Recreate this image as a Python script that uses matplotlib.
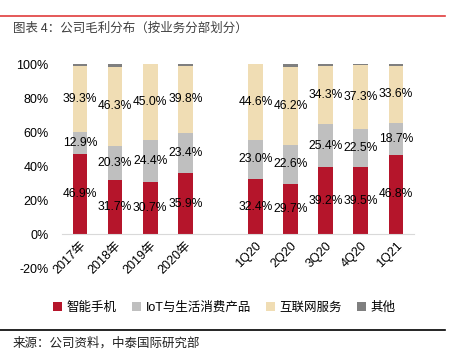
import matplotlib
matplotlib.use("Agg")
import matplotlib.pyplot as plt
from matplotlib.lines import Line2D
from matplotlib.patches import Patch
import numpy as np

plt.rcParams["font.family"] = ["Liberation Sans", "Noto Sans CJK SC", "DejaVu Sans"]

categories = ["2017年", "2018年", "2019年", "2020年", "", "1Q20", "2Q20", "3Q20", "4Q20", "1Q21"]
phone = [46.9, 31.7, 30.7, 35.9, np.nan, 32.4, 29.7, 39.2, 39.5, 46.8]
iot = [12.9, 20.3, 24.4, 23.4, np.nan, 23.0, 22.6, 25.4, 22.5, 18.7]
internet = [39.3, 46.3, 45.0, 39.8, np.nan, 44.6, 46.2, 34.3, 37.3, 33.6]
other = [0.9, 1.7, 0.0, 0.9, np.nan, 0.0, 1.5, 1.1, 0.7, 0.9]

series_names = ["智能手机", "IoT与生活消费产品", "互联网服务", "其他"]
colors = ["#B5152B", "#BFBFBF", "#F0DDB4", "#7F7F7F"]

fig = plt.figure(figsize=(4.49, 3.58), dpi=100)
ax = fig.add_axes([0.139, 0.251, 0.782, 0.570])

# spine position first: it resets the ticks
for s in ["top", "right", "left"]:
    ax.spines[s].set_visible(False)
ax.spines["bottom"].set_position(("data", 0))
ax.spines["bottom"].set_color("#D9D9D9")

x = np.arange(len(categories))
series = [phone, iot, internet, other]
bottom = np.zeros(len(categories))
for i, (vals, col) in enumerate(zip(series, colors)):
    vals = np.array(vals, dtype=float)
    ax.bar(x, np.nan_to_num(vals), 0.42, bottom=bottom, color=col, linewidth=0)
    if i < 3:
        for xi, b, v in zip(x, bottom, vals):
            if np.isnan(v):
                continue
            ax.text(xi, b + v / 2, f"{v:.1f}%", ha="center", va="center",
                    fontsize=8.7, color="black")
    bottom += np.nan_to_num(vals)

ax.set_xlim(-0.5, len(categories) - 0.5)
ax.set_ylim(-20, 100)
ax.tick_params(length=0)
ax.tick_params(axis="y", pad=10)
ax.tick_params(axis="x", pad=4)
ax.set_yticks(range(-20, 101, 20))
ax.set_yticklabels([f"{v}%" for v in range(-20, 101, 20)], fontsize=9)
ax.set_xticks(x)
ax.set_xticklabels(categories, fontsize=9, rotation=45, ha="right", rotation_mode="anchor")

handles = [Patch(facecolor=c, edgecolor="none") for c in colors]
fig.legend(handles, series_names, loc="center", bbox_to_anchor=(0.5, 0.14), ncol=4,
           frameon=False, fontsize=9, handlelength=0.7, handleheight=0.7,
           handletextpad=0.4, columnspacing=1.2)

fig.text(0.029, 0.921, "图表 4：公司毛利分布（按业务分部划分）", fontsize=9, color="#404040",
         va="center", family=["Noto Sans CJK SC", "DejaVu Sans"])
fig.text(0.029, 0.042, "来源：公司资料，中泰国际研究部", fontsize=9, color="#202020",
         va="center", family=["Noto Sans CJK SC", "DejaVu Sans"])
fig.add_artist(Line2D([0, 0.991], [0.955, 0.955], transform=fig.transFigure, color="#E03C3C", lw=1.2))
fig.add_artist(Line2D([0, 0.991], [0.077, 0.077], transform=fig.transFigure, color="black", lw=1.2))

fig.savefig("out.png", dpi=100)
